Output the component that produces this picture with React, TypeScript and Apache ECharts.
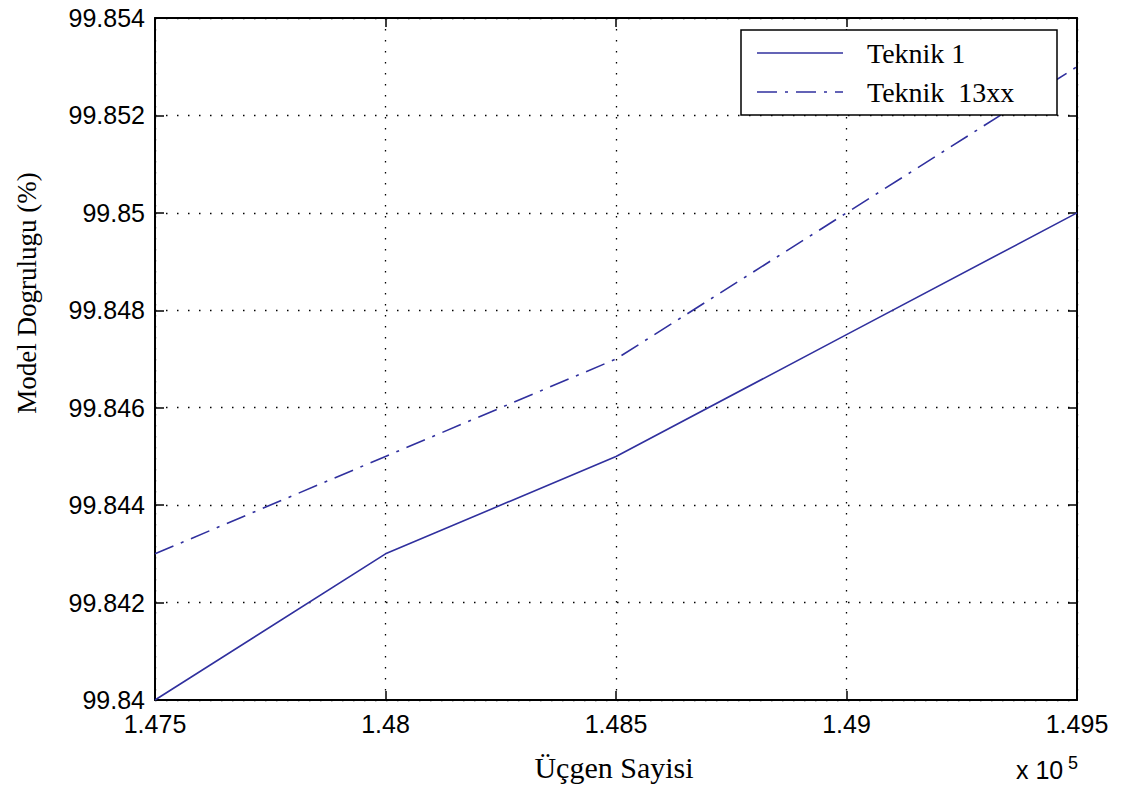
import React, { useEffect, useRef } from "react";
import * as echarts from "echarts";

const xValues = [1.475, 1.48, 1.485, 1.49, 1.495];
const teknik1 = [99.84, 99.843, 99.845, 99.8475, 99.85];
const teknik13 = [99.843, 99.845, 99.847, 99.85, 99.853];
const seriesNames = ["Teknik 1", "Teknik  13xx"];
const xTitle = "Üçgen Sayisi";
const yTitle = "Model Dogrulugu (%)";

const LINE_COLOR = "#30309e";
const DASHDOT = [20, 8, 3, 8];
const SANS = "Arial, 'Liberation Sans', sans-serif";
const SERIF = "'Times New Roman', 'Liberation Serif', serif";

function fmt(v: number) {
  return String(Number(v.toFixed(3)));
}

export default function App() {
  const ref = useRef<HTMLDivElement>(null);
  useEffect(() => {
    document.body.style.margin = "0";
    const chart = echarts.init(ref.current!, null, { renderer: "svg" });
    const gridLine = { show: true, lineStyle: { color: "#000", width: 1.3, type: [1.5, 9.5] as any } };
    const axisLine = { show: true, lineStyle: { color: "#000", width: 2 } };
    const tick = { show: true, inside: true, length: 9, lineStyle: { color: "#000", width: 1.5 } };
    chart.setOption({
      animation: false,
      backgroundColor: "#fff",
      grid: { left: 155, top: 18, right: 44, bottom: 90, containLabel: false },
      xAxis: [
        {
          type: "value",
          min: 1.475,
          max: 1.495,
          interval: 0.005,
          axisLine,
          axisTick: tick,
          splitLine: gridLine,
          axisLabel: { formatter: fmt, color: "#000", fontFamily: SANS, fontSize: 25, margin: 11 },
        },
        {
          type: "value",
          position: "top",
          min: 1.475,
          max: 1.495,
          interval: 0.005,
          axisLine,
          axisTick: tick,
          splitLine: { show: false },
          axisLabel: { show: false },
        },
      ],
      yAxis: [
        {
          type: "value",
          min: 99.84,
          max: 99.854,
          interval: 0.002,
          axisLine,
          axisTick: tick,
          splitLine: gridLine,
          axisLabel: { formatter: fmt, color: "#000", fontFamily: SANS, fontSize: 25, margin: 10 },
        },
        {
          type: "value",
          position: "right",
          min: 99.84,
          max: 99.854,
          interval: 0.002,
          axisLine,
          axisTick: tick,
          splitLine: { show: false },
          axisLabel: { show: false },
        },
      ],
      series: [
        {
          name: seriesNames[0],
          type: "line",
          data: xValues.map((x, i) => [x, teknik1[i]]),
          showSymbol: false,
          lineStyle: { color: LINE_COLOR, width: 1.6 },
          clip: true,
        },
        {
          name: seriesNames[1],
          type: "line",
          data: xValues.map((x, i) => [x, teknik13[i]]),
          showSymbol: false,
          lineStyle: { color: LINE_COLOR, width: 1.6, type: DASHDOT },
          clip: true,
        },
      ],
      graphic: [
        {
          type: "text",
          x: 614,
          y: 767,
          style: { text: xTitle, font: `30px ${SERIF}`, fill: "#000", align: "center", verticalAlign: "middle" },
        },
        {
          type: "text",
          x: 27,
          y: 293,
          rotation: Math.PI / 2,
          style: { text: yTitle, font: `27px ${SERIF}`, fill: "#000", align: "center", verticalAlign: "middle" },
        },
        {
          type: "rect",
          shape: { x: 741, y: 30, width: 316, height: 85 },
          style: { fill: "#fff", stroke: "#000", lineWidth: 1.5 },
          z: 100,
        },
        {
          type: "line",
          shape: { x1: 757, y1: 53, x2: 843, y2: 53 },
          style: { stroke: LINE_COLOR, lineWidth: 1.6 },
          z: 101,
        },
        {
          type: "line",
          shape: { x1: 757, y1: 92, x2: 843, y2: 92 },
          style: { stroke: LINE_COLOR, lineWidth: 1.6, lineDash: DASHDOT },
          z: 101,
        },
        {
          type: "text",
          x: 867,
          y: 53,
          style: { text: seriesNames[0], font: `28px ${SERIF}`, fill: "#000", verticalAlign: "middle" },
          z: 101,
        },
        {
          type: "text",
          x: 867,
          y: 92,
          style: { text: seriesNames[1], font: `28px ${SERIF}`, fill: "#000", verticalAlign: "middle" },
          z: 101,
        },
        {
          type: "text",
          x: 1016,
          y: 757,
          style: { text: "x 10", font: `25px ${SANS}`, fill: "#000", verticalAlign: "top" },
        },
        {
          type: "text",
          x: 1068,
          y: 754,
          style: { text: "5", font: `18px ${SANS}`, fill: "#000", verticalAlign: "top" },
        },
      ],
    });
    return () => chart.dispose();
  }, []);
  return <div ref={ref} style={{ width: 1121, height: 790 }} />;
}
